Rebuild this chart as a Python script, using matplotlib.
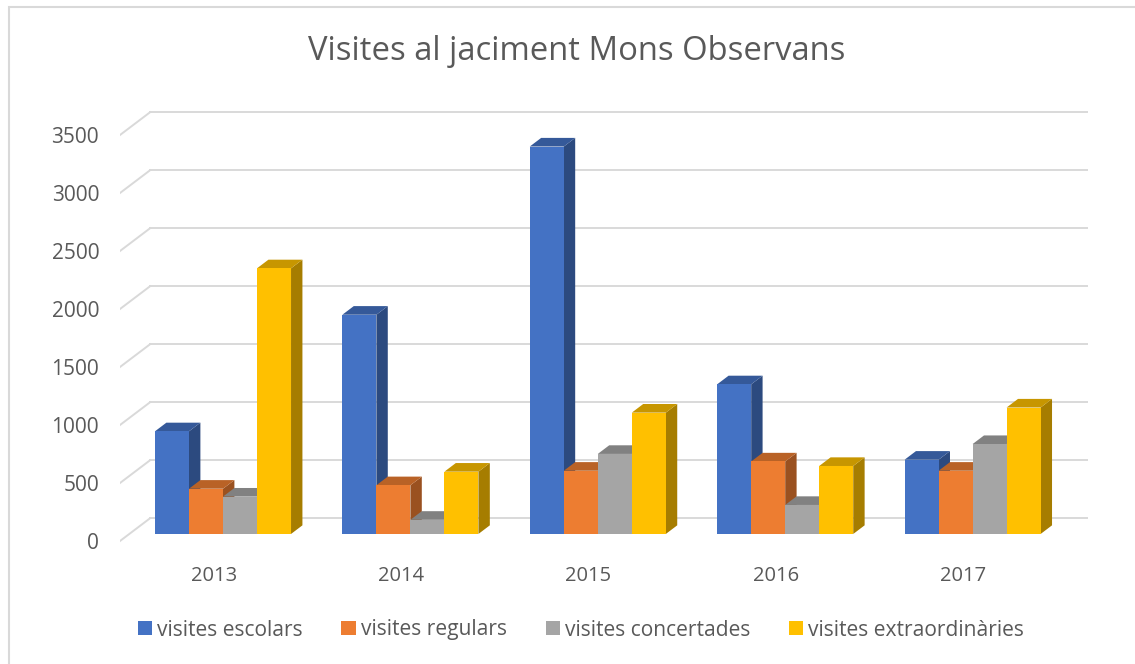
import numpy as np
import matplotlib.pyplot as plt
from matplotlib.patches import Polygon, Patch, Rectangle
from matplotlib.colors import to_rgb

# --- data ---
years = ['2013', '2014', '2015', '2016', '2017']
series_names = ['visites escolars', 'visites regulars', 'visites concertades', 'visites extraordinàries']
escolars = [885, 1890, 3340, 1290, 640]
regulars = [390, 420, 545, 625, 545]
concertades = [322, 122, 690, 250, 775]
extraordinaries = [2290, 537, 1046, 586, 1090]
yticks = [0, 500, 1000, 1500, 2000, 2500, 3000, 3500]
colors = ['#4472C4', '#ED7D31', '#A5A5A5', '#FFC000']
series = [escolars, regulars, concertades, extraordinaries]

plt.rcParams['font.family'] = ['Open Sans', 'DejaVu Sans']
text_color = '#595959'
grid_color = '#D9D9D9'

W, H = 1135, 664
fig = plt.figure(figsize=(W / 100, H / 100), dpi=100)

# axes in pixels (front plane: x 120 -> 1057 over 5 categories, 0 at y=541)
px_per_cat = 187.4
val_per_px = 500 / 58
ax_l, ax_r, ax_t, ax_b = 120, 1105, 95, 548
ax = fig.add_axes([ax_l / W, 1 - ax_b / H, (ax_r - ax_l) / W, (ax_b - ax_t) / H])
ax.set_xlim(0, (ax_r - ax_l) / px_per_cat)
ax.set_ylim((541 - ax_b) * val_per_px, (541 - ax_t) * val_per_px)
for s in ax.spines.values():
    s.set_visible(False)

# oblique depth of the plot box
dx = 30 / px_per_cat
dy = 22.7 * val_per_px
n = len(years)

# back wall gridlines and left wall diagonals
for v in yticks:
    ax.plot([dx, n + dx], [v + dy, v + dy], color=grid_color, lw=1.4, zorder=1)
    ax.plot([0, dx], [v, v + dy], color=grid_color, lw=1.4, zorder=1)

# bars as boxes
f0, f1 = 0.31, 0.69   # bar depth inside the box
group_w = 0.726
bw = group_w / len(series)
ox0, oy0 = f0 * dx, f0 * dy
bdx, bdy = (f1 - f0) * dx, (f1 - f0) * dy


def shade(c, k):
    r, g, b = to_rgb(c)
    return (r * k, g * k, b * k)


z = 2
for i in range(n):
    for k, vals in enumerate(series):
        x = i + 0.5 - group_w / 2 + k * bw + ox0
        v = vals[i]
        side = Polygon([(x + bw, oy0), (x + bw + bdx, oy0 + bdy),
                        (x + bw + bdx, v + oy0 + bdy), (x + bw, v + oy0)],
                       closed=True, facecolor=shade(colors[k], 0.65), edgecolor='none', zorder=z)
        top = Polygon([(x, v + oy0), (x + bdx, v + oy0 + bdy),
                       (x + bw + bdx, v + oy0 + bdy), (x + bw, v + oy0)],
                      closed=True, facecolor=shade(colors[k], 0.78), edgecolor='none', zorder=z)
        ax.add_patch(side)
        ax.add_patch(top)
        ax.bar(x, v, width=bw, bottom=oy0, align='edge', color=colors[k], zorder=z + 0.5)
        z += 1

# tick labels
ax.set_yticks(yticks)
ax.set_yticklabels([str(t) for t in yticks], color=text_color, fontsize=15)
ax.set_xticks(np.arange(n) + 0.5)
ax.set_xticklabels(years, color=text_color, fontsize=14.5)
ax.tick_params(axis='y', length=0, pad=15)
ax.tick_params(axis='x', length=0, pad=13)

# title
fig.text(577 / W, 1 - 51 / H, 'Visites al jaciment Mons Observans', ha='center', va='center',
         fontsize=23.6, color=text_color)

# legend
handles = [Patch(facecolor=c, edgecolor='none') for c in colors]
fig.legend(handles, series_names, loc='center', bbox_to_anchor=(581 / W, 1 - 630 / H), ncol=4,
           frameon=False, fontsize=15.1, labelcolor=text_color, handlelength=0.67, handleheight=0.67,
           handletextpad=0.25, columnspacing=1.85, borderpad=0, borderaxespad=0)

# chart border (cut at right and bottom edges)
fig.patches.append(Rectangle((9 / W, -0.1), 1.2, 1.1 - 7 / H, transform=fig.transFigure,
                             facecolor='none', edgecolor=grid_color, lw=1.5))

fig.savefig('out.png', dpi=100)
